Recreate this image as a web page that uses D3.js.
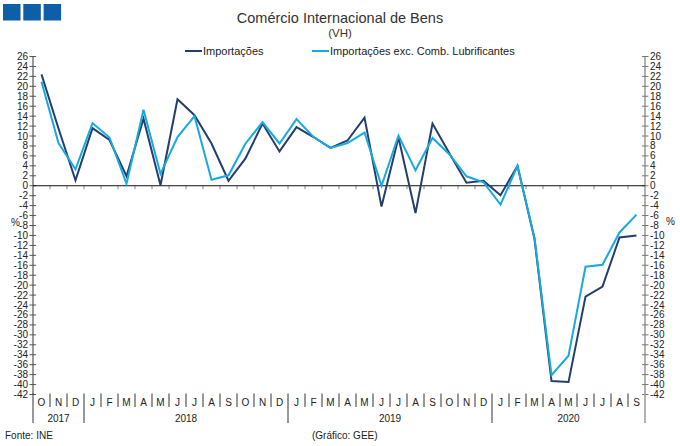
<!DOCTYPE html>
<html>
<head>
<meta charset="utf-8">
<script src="https://cdn.jsdelivr.net/npm/d3@7"></script>
<style>
  body { margin: 0; background: #fff; }
  svg { display: block; font-family: "Liberation Sans", Arial, sans-serif; }
</style>
</head>
<body>
<svg class="svg"></svg>
<script>
const months = ['O','N','D','J','F','M','A','M','J','J','A','S','O','N','D',
  'J','F','M','A','M','J','J','A','S','O','N','D','J','F','M','A','M','J','J','A','S'];
const years = [
  { label: '2017', start: 0, n: 3 },
  { label: '2018', start: 3, n: 12 },
  { label: '2019', start: 15, n: 12 },
  { label: '2020', start: 27, n: 9 }
];
const importacoes = [22.4, 11.5, 1.1, 11.6, 9.2, 1.9, 13.5, 0.1, 17.4, 14.2, 8.5, 1.0,
  5.5, 12.5, 6.9, 11.8, 9.8, 7.6, 9.1, 13.7, -4.2, 9.7, -5.5, 12.5,
  6.5, 0.6, 1.0, -1.9, 4.0, -10.7, -39.3, -39.5, -22.3, -20.3, -10.4, -10.0];
const importacoesExc = [20.9, 8.6, 3.3, 12.6, 9.7, 0.4, 15.3, 2.4, 9.8, 14.0, 1.2, 2.1,
  8.5, 12.8, 8.5, 13.4, 9.8, 7.6, 8.6, 10.7, 0.0, 10.1, 3.1, 9.6,
  6.3, 1.9, 0.7, -3.8, 4.0, -10.5, -38.1, -34.2, -16.3, -15.9, -9.4, -5.8];
const yTicks = d3.range(-42, 27, 2);

const width = 680, height = 446;
const m = { left: 33, right: 645, top: 56.5, bottom: 394.5 };
const darkBlue = '#223f6d', lightBlue = '#18a9e1';

const svg = d3.select('.svg').attr('width', width).attr('height', height);

// logo squares
svg.append('g').selectAll('rect')
  .data([0, 1, 2])
  .join('rect')
  .attr('x', d => 3 + d * 20.3)
  .attr('y', 4)
  .attr('width', 17.5)
  .attr('height', 16.5)
  .attr('fill', '#0f5ea8');

svg.append('text').attr('x', 340).attr('y', 23).attr('text-anchor', 'middle')
  .attr('font-size', 14.5).attr('fill', '#333').text('Comércio Internacional de Bens');
svg.append('text').attr('x', 340).attr('y', 37).attr('text-anchor', 'middle')
  .attr('font-size', 11.5).attr('fill', '#333').text('(VH)');

// legend
const legend = [
  { name: 'Importações', color: darkBlue, x: 185 },
  { name: 'Importações exc. Comb. Lubrificantes', color: lightBlue, x: 312 }
];
const lg = svg.append('g').selectAll('g').data(legend).join('g');
lg.append('line')
  .attr('x1', d => d.x).attr('x2', d => d.x + 17)
  .attr('y1', 51).attr('y2', 51)
  .attr('stroke', d => d.color).attr('stroke-width', 2);
lg.append('text')
  .attr('x', d => d.x + 18).attr('y', 55)
  .attr('font-size', 11).attr('fill', '#222')
  .text(d => d.name);

const x = d3.scaleBand().domain(d3.range(months.length)).range([m.left, m.right]);
const y = d3.scaleLinear().domain([-42, 26]).range([m.bottom, m.top]);

// y axes
const yLeft = svg.append('g');
yLeft.append('line').attr('x1', m.left).attr('x2', m.left).attr('y1', m.top).attr('y2', m.bottom)
  .attr('stroke', '#333');
yLeft.selectAll('line.tk').data(yTicks).join('line').attr('class', 'tk')
  .attr('x1', m.left - 3.5).attr('x2', m.left + 3).attr('y1', d => y(d)).attr('y2', d => y(d))
  .attr('stroke', '#555');
yLeft.selectAll('text').data(yTicks).join('text')
  .attr('x', m.left - 5).attr('y', d => y(d) + 3.5).attr('text-anchor', 'end')
  .attr('font-size', 10).attr('fill', '#222').text(d => d);

const yRight = svg.append('g');
yRight.append('line').attr('x1', m.right).attr('x2', m.right).attr('y1', m.top).attr('y2', m.bottom)
  .attr('stroke', '#999').attr('stroke-width', 1.5);
yRight.selectAll('line.tk').data(yTicks).join('line').attr('class', 'tk')
  .attr('x1', m.right - 3).attr('x2', m.right + 3.5).attr('y1', d => y(d)).attr('y2', d => y(d))
  .attr('stroke', '#777');
yRight.selectAll('text').data(yTicks).join('text')
  .attr('x', m.right + 5).attr('y', d => y(d) + 3.5).attr('text-anchor', 'start')
  .attr('font-size', 10).attr('fill', '#222').text(d => d);

svg.append('text').attr('x', 11).attr('y', 226).attr('font-size', 10).attr('fill', '#222').text('%');
svg.append('text').attr('x', 666).attr('y', 225).attr('font-size', 10).attr('fill', '#222').text('%');

// zero line with ticks
svg.append('g').selectAll('line').data(d3.range(1, months.length)).join('line')
  .attr('x1', d => x(d)).attr('x2', d => x(d))
  .attr('y1', y(0)).attr('y2', y(0) + 3.5)
  .attr('stroke', '#888');
svg.append('line').attr('x1', m.left).attr('x2', m.right).attr('y1', y(0)).attr('y2', y(0))
  .attr('stroke', '#111');

// x axis categories
const isEdge = d => d === 0 || d === months.length || years.some(yr => yr.start === d);
const xg = svg.append('g');
xg.selectAll('line').data(d3.range(0, months.length + 1)).join('line')
  .attr('x1', d => m.left + d * x.bandwidth()).attr('x2', d => m.left + d * x.bandwidth())
  .attr('y1', m.bottom - 1)
  .attr('y2', d => isEdge(d) ? 423 : 407)
  .attr('stroke', d => d === months.length ? '#999' : '#333')
  .attr('stroke-width', d => d === months.length ? 1.5 : 1);
xg.selectAll('text.m').data(months).join('text').attr('class', 'm')
  .attr('x', (d, i) => x(i) + x.bandwidth() / 2).attr('y', 406)
  .attr('text-anchor', 'middle').attr('font-size', 10).attr('fill', '#222').text(d => d);
xg.selectAll('text.yr').data(years).join('text').attr('class', 'yr')
  .attr('x', d => m.left + (d.start + d.n / 2) * x.bandwidth()).attr('y', 422)
  .attr('text-anchor', 'middle').attr('font-size', 10).attr('fill', '#222').text(d => d.label);

// lines
const line = d3.line().x((d, i) => x(i) + x.bandwidth() / 2).y(d => y(d));
svg.append('path').datum(importacoes).attr('d', line)
  .attr('fill', 'none').attr('stroke', darkBlue).attr('stroke-width', 2);
svg.append('path').datum(importacoesExc).attr('d', line)
  .attr('fill', 'none').attr('stroke', lightBlue).attr('stroke-width', 2);

svg.append('text').attr('x', 5).attr('y', 439).attr('font-size', 10).attr('fill', '#222').text('Fonte: INE');
svg.append('text').attr('x', 312).attr('y', 439).attr('font-size', 10).attr('fill', '#222').text('(Gráfico: GEE)');
</script>
</body>
</html>
